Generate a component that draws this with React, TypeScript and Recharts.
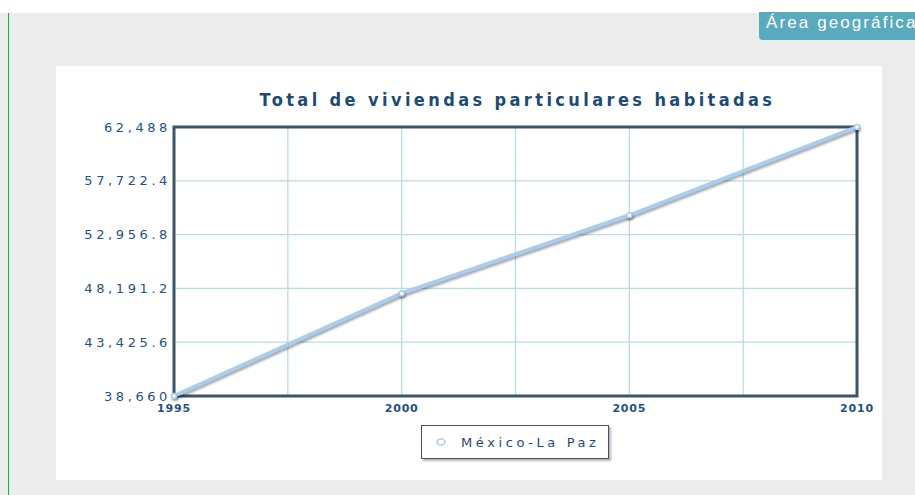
import React from "react";
import {
  CartesianGrid,
  Line,
  LineChart,
  ReferenceArea,
  XAxis,
  YAxis,
} from "recharts";

const years = [1995, 2000, 2005, 2010];
const viviendas = [38660, 47750, 54670, 62488];
const xTicks = [1995, 1997.5, 2000, 2002.5, 2005, 2007.5, 2010];
const yTicks = [38660, 43425.6, 48191.2, 52956.8, 57722.4, 62488];
const seriesName = "México-La Paz";

const data = years.map((y, i) => ({ year: y, value: viviendas[i] }));

const tickColor = "#24527e";
const borderColor = "#3d5566";
const lineColor = "#a9cdee";

const fmtY = (v: number) =>
  v.toLocaleString("en-US", { maximumFractionDigits: 1 });

function LegendBox() {
  return (
    <div
      style={{
        position: "absolute",
        left: 365,
        top: 359,
        width: 188,
        height: 34,
        border: `1px solid ${borderColor}`,
        background: "#fff",
        boxShadow: "2px 2px 2px rgba(0,0,0,0.3)",
        display: "flex",
        alignItems: "center",
        boxSizing: "border-box",
        paddingLeft: 13,
      }}
    >
      <svg width={12} height={10}>
        <ellipse cx={6} cy={5} rx={4} ry={3} fill="#fff" stroke={lineColor} strokeWidth={1.5} />
      </svg>
      <span
        style={{
          marginLeft: 14,
          fontFamily: "DejaVu Sans",
          fontSize: 13,
          letterSpacing: 3.6,
          color: "#1f4a72",
        }}
      >
        {seriesName}
      </span>
    </div>
  );
}

export default function App() {
  return (
    <div
      style={{
        position: "absolute",
        left: 0,
        top: 0,
        width: 915,
        height: 495,
        background: "#ececec",
        overflow: "hidden",
      }}
    >
      <div style={{ position: "absolute", left: 0, top: 0, width: 915, height: 13, background: "#fff" }} />
      <div style={{ position: "absolute", left: 8, top: 13, width: 1, height: 482, background: "#00bf3f" }} />
      <div
        style={{
          position: "absolute",
          left: 759,
          top: 12,
          width: 170,
          height: 28,
          background: "#5aaabd",
          borderBottomLeftRadius: 4,
          color: "#fff",
          fontFamily: "Liberation Sans",
          fontSize: 17,
          letterSpacing: 2.1,
          lineHeight: "22px",
          paddingLeft: 7,
          boxSizing: "border-box",
          whiteSpace: "nowrap",
        }}
      >
        Área geográfica
      </div>
      <div style={{ position: "absolute", left: 56, top: 66, width: 826, height: 414, background: "#fff" }}>
        <div
          style={{
            position: "absolute",
            left: 120,
            top: 23,
            width: 683,
            textAlign: "center",
            fontFamily: "DejaVu Sans Condensed",
            fontWeight: "bold",
            fontSize: 18,
            color: "#1d4b75",
            letterSpacing: 3.4,
            whiteSpace: "nowrap",
          }}
        >
          Total de viviendas particulares habitadas
        </div>
        <LineChart
          width={826}
          height={414}
          data={data}
          margin={{ top: 61, right: 25, bottom: 0, left: 0 }}
        >
          <CartesianGrid stroke="#b6dde2" strokeWidth={1.3} />
          <XAxis
            dataKey="year"
            type="number"
            domain={[1995, 2010]}
            ticks={xTicks}
            tickFormatter={(v: number) => (v % 5 === 0 ? String(v) : "")}
            axisLine={false}
            tickLine={false}
            tickMargin={2}
            height={84}
            tick={{ fill: tickColor, fontSize: 11, fontWeight: "bold", fontFamily: "DejaVu Sans", letterSpacing: 0.8 }}
            interval={0}
          />
          <YAxis
            type="number"
            domain={[38660, 62488]}
            ticks={yTicks}
            tickFormatter={fmtY}
            axisLine={false}
            tickLine={false}
            tickSize={1}
            tickMargin={2}
            width={118}
            interval={0}
            tick={{ fill: tickColor, fontSize: 13, fontFamily: "DejaVu Sans", letterSpacing: 3.6 }}
          />
          <ReferenceArea
            x1={1995}
            x2={2010}
            y1={38660}
            y2={62488}
            fill="none"
            stroke={borderColor}
            strokeWidth={3}
            fillOpacity={0}
          />
          <Line
            type="linear"
            dataKey="value"
            name={seriesName}
            stroke={lineColor}
            strokeWidth={4}
            dot={{ r: 2.5, fill: "#fff", stroke: lineColor, strokeWidth: 1.5 }}
            activeDot={false}
            isAnimationActive={false}
            style={{ filter: "drop-shadow(1px 2px 1px rgba(0,0,0,0.35))" }}
          />
        </LineChart>
        <LegendBox />
      </div>
    </div>
  );
}
